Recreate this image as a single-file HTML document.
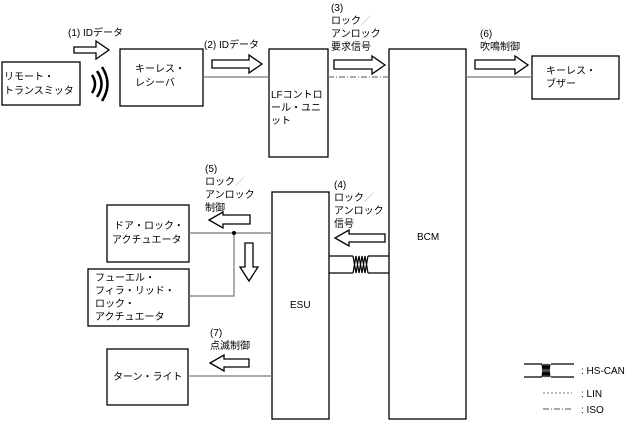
<!DOCTYPE html>
<html><head><meta charset="utf-8"><style>
html,body{margin:0;padding:0;background:#fff;}
svg text{font-family:"Liberation Sans","Noto Sans CJK JP",sans-serif;font-size:10px;fill:#000;}
</style></head><body>
<svg width="628" height="421" viewBox="0 0 628 421" xmlns="http://www.w3.org/2000/svg">
<g fill="none" stroke="#000" stroke-width="1.3">
<rect x="2" y="62" width="78" height="43"/>
<rect x="120" y="49" width="83" height="57"/>
<rect x="269" y="49" width="59" height="108"/>
<rect x="389" y="49" width="77" height="370"/>
<rect x="532" y="56" width="87" height="43"/>
<rect x="272" y="192" width="57" height="227"/>
<rect x="107" y="205" width="82" height="57"/>
<rect x="88" y="269" width="101" height="57"/>
<rect x="107" y="349" width="81" height="56"/>
</g>
<g stroke="#777" stroke-width="1.2" fill="none">
<line x1="203" y1="77" x2="269" y2="77"/>
<line x1="466" y1="77" x2="532" y2="77"/>
<line x1="328" y1="77" x2="389" y2="77" stroke-dasharray="6,2,1,2"/>
<line x1="189" y1="233" x2="272" y2="233"/>
<polyline points="234,233 234,296 189,296"/>
<line x1="188" y1="376" x2="272" y2="376"/>
</g>
<circle cx="234" cy="233" r="2" fill="#000"/>
<!-- HS-CAN -->
<g stroke="#000" stroke-width="1.2" fill="none">
<line x1="329" y1="256" x2="353" y2="256"/><line x1="368" y1="256" x2="389" y2="256"/>
<line x1="329" y1="273" x2="353" y2="273"/><line x1="368" y1="273" x2="389" y2="273"/>
<path d="M353,256 L356,273 L359,256 L362,273 L365,256 L368,273 M353,273 L356,256 L359,273 L362,256 L365,273 L368,256"/>
<line x1="524" y1="364" x2="542" y2="364"/><line x1="551" y1="364" x2="574" y2="364"/>
<line x1="524" y1="377" x2="542" y2="377"/><line x1="551" y1="377" x2="574" y2="377"/>
<path d="M542,364 L544,377 L546,364 L548,377 L550,364 M542,377 L544,364 L546,377 L548,364 L550,377"/>
</g>
<line x1="543" y1="393" x2="572" y2="393" stroke="#777" stroke-dasharray="2,2"/>
<line x1="543" y1="409" x2="572" y2="409" stroke="#555" stroke-dasharray="6,2,1,2"/>
<!-- waves -->
<g stroke="#000" stroke-width="2.5" fill="none">
<path d="M92,75 Q98,84 92,93"/>
<path d="M97,71 Q106,84 97,97"/>
<path d="M102,67 Q113,84 102,101"/>
</g>
<!-- block arrows -->
<g fill="#fff" stroke="#000" stroke-width="1.3">
<path d="M74,47 H96 V41 L109,50 L96,59 V53 H74 Z"/>
<path d="M212,60 H249 V55 L262,64 L249,73 V68 H212 Z"/>
<path d="M334,60 H372 V56 L385,65 L372,74 V69 H334 Z"/>
<path d="M475,60 H515 V56 L528,65 L515,74 V69 H475 Z"/>
<path d="M250,215 H223 V212 L209,220 L223,228 V224 H250 Z"/>
<path d="M385,234 H349 V230 L335,238 L349,246 V242 H385 Z"/>
<path d="M249,359 H224 V355 L210,363 L224,371 V367 H249 Z"/>
<path d="M245,243 V267 H240 L249,281 L258,267 H253 V243 Z"/>
</g>
<text x="68" y="36">(1) IDデータ</text>
<text x="204" y="48">(2) IDデータ</text>
<text x="331" y="11">(3)</text>
<text x="331" y="24">ロック<tspan fill="#aaa">／</tspan></text>
<text x="331" y="37">アンロック</text>
<text x="331" y="50">要求信号</text>
<text x="480" y="37">(6)</text>
<text x="480" y="50">吹鳴制御</text>
<text x="4" y="80">リモート・</text>
<text x="4" y="94">トランスミッタ</text>
<text x="135" y="72">キーレス・</text>
<text x="135" y="86">レシーバ</text>
<text x="271" y="98">LFコントロ</text>
<text x="271" y="111">ール・ユニ</text>
<text x="271" y="124">ット</text>
<text x="417" y="240">BCM</text>
<text x="546" y="74">キーレス・</text>
<text x="546" y="87">ブザー</text>
<text x="205" y="172">(5)</text>
<text x="205" y="185">ロック<tspan fill="#aaa">／</tspan></text>
<text x="205" y="198">アンロック</text>
<text x="205" y="211">制御</text>
<text x="334" y="188">(4)</text>
<text x="334" y="201">ロック<tspan fill="#aaa">／</tspan></text>
<text x="334" y="214">アンロック</text>
<text x="334" y="227">信号</text>
<text x="114" y="229">ドア・ロック・</text>
<text x="112" y="243">アクチュエータ</text>
<text x="95" y="281">フューエル・</text>
<text x="95" y="294">フィラ・リッド・</text>
<text x="95" y="307">ロック・</text>
<text x="95" y="320">アクチュエータ</text>
<text x="290" y="308">ESU</text>
<text x="210" y="336">(7)</text>
<text x="210" y="349">点滅制御</text>
<text x="113" y="380">ターン・ライト</text>
<text x="581" y="374">: HS-CAN</text>
<text x="581" y="397">: LIN</text>
<text x="581" y="413">: ISO</text>
</svg>
</body></html>
